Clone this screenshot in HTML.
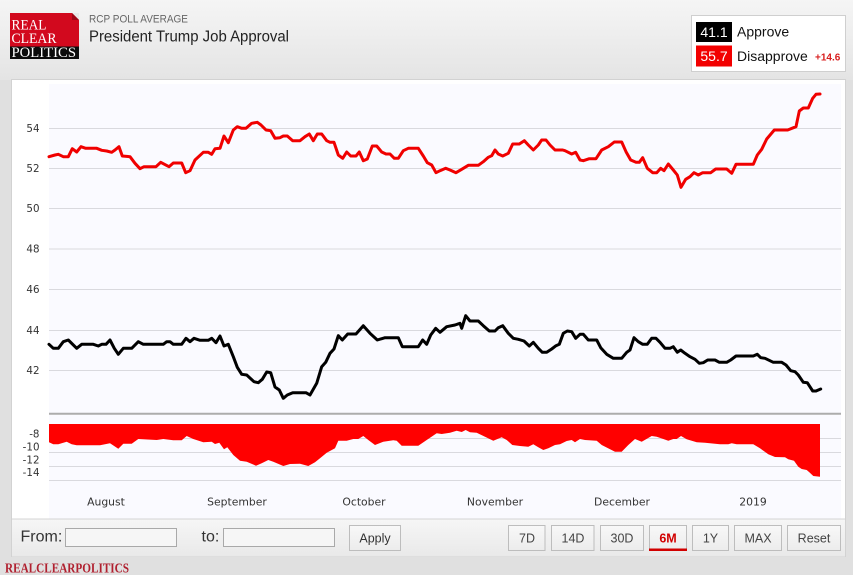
<!DOCTYPE html>
<html><head><meta charset="utf-8"><style>
html,body{margin:0;padding:0;width:853px;height:575px;overflow:hidden;background:#e0e0e0;}
svg{display:block;}
</style></head><body>
<svg width="853" height="575" viewBox="0 0 853 575" xmlns="http://www.w3.org/2000/svg">
<defs>
<linearGradient id="hdr" x1="0" y1="0" x2="0" y2="1">
<stop offset="0" stop-color="#f5f5f5"/><stop offset="1" stop-color="#e4e4e4"/>
</linearGradient>
<linearGradient id="bar" x1="0" y1="0" x2="0" y2="1">
<stop offset="0" stop-color="#f6f6f6"/><stop offset="1" stop-color="#e9e9e9"/>
</linearGradient>
<linearGradient id="btn" x1="0" y1="0" x2="0" y2="1">
<stop offset="0" stop-color="#f8f8f8"/><stop offset="1" stop-color="#ececec"/>
</linearGradient>
</defs>
<rect x="0" y="0" width="853" height="575" fill="#e0e0e0"/>
<rect x="0" y="0" width="853" height="80" fill="url(#hdr)"/>

<!-- logo -->
<rect x="10" y="13" width="69" height="34" fill="#d2091e"/>
<polygon points="72,13 79,13 79,20" fill="#e8e8e8"/>
<polygon points="72,13 79,20 72,20" fill="#9e0616"/>
<rect x="10" y="46.5" width="69" height="12.5" fill="#0b0b0b"/>
<g font-family="'Liberation Serif',serif" fill="#fff" font-size="14.5">
<text x="11.5" y="29.5" textLength="35" lengthAdjust="spacingAndGlyphs">REAL</text>
<text x="11.5" y="43" textLength="45" lengthAdjust="spacingAndGlyphs">CLEAR</text>
<text x="11.5" y="57" textLength="64.5" lengthAdjust="spacingAndGlyphs">POLITICS</text>
</g>

<text x="89" y="22.7" font-family="'Liberation Sans',sans-serif" font-size="10.6" fill="#666" textLength="99" lengthAdjust="spacingAndGlyphs">RCP POLL AVERAGE</text>
<text x="89" y="41.7" font-family="'Liberation Sans',sans-serif" font-size="15.5" fill="#222" textLength="200" lengthAdjust="spacingAndGlyphs">President Trump Job Approval</text>

<!-- legend -->
<rect x="691.5" y="15.5" width="154" height="56" fill="#fff" stroke="#cfcfcf"/>
<rect x="696" y="22" width="36" height="20" fill="#000"/>
<text x="714" y="37" text-anchor="middle" font-family="'Liberation Sans',sans-serif" font-size="14" fill="#fff">41.1</text>
<text x="737" y="36.5" font-family="'Liberation Sans',sans-serif" font-size="14" fill="#111">Approve</text>
<rect x="696" y="45.5" width="36" height="21" fill="#f20000"/>
<text x="714" y="61" text-anchor="middle" font-family="'Liberation Sans',sans-serif" font-size="14" fill="#fff">55.7</text>
<text x="737" y="61" font-family="'Liberation Sans',sans-serif" font-size="14" fill="#111">Disapprove</text>
<text x="815" y="60.5" font-family="'Liberation Sans',sans-serif" font-size="10" font-weight="bold" fill="#d81e1e">+14.6</text>

<!-- panel -->
<rect x="11.5" y="79.5" width="834" height="477" fill="#fff" stroke="#d2d2d2"/>
<rect x="49" y="84" width="792" height="435" fill="#fafaff"/>

<!-- grid -->
<g stroke="#d9d9de" stroke-width="1">
<line x1="49" x2="841" y1="128.5" y2="128.5"/>
<line x1="49" x2="841" y1="168.5" y2="168.5"/>
<line x1="49" x2="841" y1="208.5" y2="208.5"/>
<line x1="49" x2="841" y1="249" y2="249"/>
<line x1="49" x2="841" y1="289.5" y2="289.5"/>
<line x1="49" x2="841" y1="330.5" y2="330.5"/>
<line x1="49" x2="841" y1="370.5" y2="370.5"/>
<line x1="49" x2="841" y1="438.5" y2="438.5"/>
<line x1="49" x2="841" y1="452.5" y2="452.5"/>
<line x1="49" x2="841" y1="466.5" y2="466.5"/>
<line x1="49" x2="841" y1="480.5" y2="480.5"/>
</g>
<g font-family="'DejaVu Sans',sans-serif" font-size="10.3" fill="#333" text-anchor="end">
<text x="39.5" y="132">54</text>
<text x="39.5" y="172">52</text>
<text x="39.5" y="212.2">50</text>
<text x="39.5" y="252.5">48</text>
<text x="39.5" y="293">46</text>
<text x="39.5" y="334">44</text>
<text x="39.5" y="374">42</text>
<text x="39.5" y="437.7">-8</text>
<text x="39.5" y="450.7">-10</text>
<text x="39.5" y="463.3">-12</text>
<text x="39.5" y="476">-14</text>
</g>

<!-- separator -->
<line x1="49" x2="841" y1="413.7" y2="413.7" stroke="#acacac" stroke-width="2"/>

<!-- spread area -->
<polygon fill="#ff0000" points="49,424 49,442.3 53.3,444.3 58.3,444.3 66.7,441.7 71.7,444.3 76.7,445.3 100,445.3 110,443.3 118.3,448.7 123.3,443.7 131.7,443.7 138.3,439 156.7,440 163.3,439 173.3,440.3 181.7,440.3 186.7,436 193.3,439 203.3,442.3 211.7,441.7 215,444 219.3,442.7 224,449.3 227.3,447.3 233.3,455 240,460.7 246.7,461.7 256,465.7 261.7,463.3 268.3,460 273.3,461.7 283.3,466 290,464 300,463.7 308.3,466 315,462.3 320,458.3 326.7,452.7 335,448.3 338.3,440.7 346.7,440.7 353.3,439 358.3,439 363.3,436 368.3,440 375,445 383.3,441.7 393.3,440.3 396.7,440.7 401.7,445.7 418.3,445.7 426.7,440 436.7,433.3 441.7,434 450,432.7 456.7,430.7 461.7,432 465.7,430 470,432.3 476.7,432.7 485,436.7 493.3,440.7 501.7,437.3 506.7,440 512.3,445 520,446 528.3,446.7 533.3,444.3 538.3,447.3 543.3,450 548.3,448.3 555,445 560,444.3 566.7,441 571.7,440 575,442.3 580,439 585,440 596.7,440.7 601.7,445 615,451.7 621.7,451.7 628.3,445 635,439 641.7,441.7 651.7,436 656.7,436.7 663.3,439 668.3,440.7 673.3,439 676.7,439 681,436 686.7,439.3 696.7,442.3 705,442.7 710,443.3 720,444.3 728.3,444.3 731.7,443.3 736.7,444.3 753.3,444.3 760,448.3 768.3,454.3 775,457 785,457.3 788.3,459.3 794,460.7 798.3,466.7 801.7,469 806.7,470 809.3,472.3 813.3,476 820,476.7 820,424"/>

<!-- disapprove -->
<polyline fill="none" stroke="#f00000" stroke-width="3" stroke-linejoin="round" stroke-linecap="round" points="49,156.7 55,155 58.3,154.3 63.3,156.7 68.3,156.7 72.3,148.7 76.7,152 81,146.7 85.7,148.3 96.7,148.3 101.7,150.3 106.7,151 111.7,152.3 115,150 119,146.7 122.3,156 130,156.7 135,163.3 140,168.7 144,166.7 156,166.7 160.7,162.3 169,166.7 173.3,163 181.7,163 185.7,172.7 190,170.7 195,160 203.3,152.3 208.3,152.3 211.7,154.3 215,148.7 220,148.3 224,136 228.3,142.7 233.3,130 237.3,126.7 241.7,128.3 246,128.3 251.7,123.3 257.3,122.3 261,125 266,130 270.7,130.7 275,138.3 280,137.7 283.3,136 287.3,136 292.7,140.7 300,140.7 305,136.7 309.3,134 313.3,140.7 317.3,134 321.7,134 326.7,140.7 330,142.3 334,142.3 338.3,155 342.7,158.3 346.7,152 350.7,156 356,156 359.3,152 363.3,160.7 367.3,159 372.3,146 376.7,146 381.7,152 386,154 390,154 394.3,158.3 398.3,158.3 403.3,150.7 408.3,148.3 418.3,148.3 423.3,156 427.3,162.7 431.7,165 436,172.7 440,170.7 445.7,168.3 450,170 456,172.7 461.7,169.3 468.3,165.3 478.3,165.3 483.3,161.7 488.3,157.3 491.7,155.7 495,150 498.3,154 502.7,156 508.3,153.3 512.7,144 519.3,144 524.3,140.7 528.3,145 533.3,150 538.3,145 541.7,140 546,140 550,145 555,150 562.7,150 565,150.7 571.7,154 575.7,152.3 580,160 583.3,160.7 589.3,158.7 596,158.7 601.7,150 608.3,146.7 614.3,142 621.7,142 626,151.7 630.7,160 636,162.3 639.3,162.3 642.7,157.7 647.3,168.3 652.7,172.7 656.7,172.7 660.7,168.3 664,170.7 668.3,164 673.3,170 677.3,175 681,187.3 685.7,179.3 690,176.7 694,172.7 698.3,175 702.7,172.7 710.7,172.7 715.7,169 726.7,169 731.7,173.3 736,164.3 753.3,164.3 757.3,155 761.7,149.3 766.7,139 774.3,130 787.7,130 796,126.7 799.3,111 803.3,108 808.3,108 812.7,98.3 816,94.3 820,94"/>

<!-- approve -->
<polyline fill="none" stroke="#000" stroke-width="3" stroke-linejoin="round" stroke-linecap="round" points="49,344.3 53.3,348.3 58.3,348.3 63.3,341.7 68.3,340 76.7,348.3 81.7,344.3 93.3,344.3 98.3,346 101.7,344.3 106,344.3 110,340 114.3,348.3 118.3,354.3 123.3,348.3 131.7,348.3 138.3,341.7 143.3,344.3 163.3,344.3 166.7,341.7 170,341.7 173.3,344.3 181.7,344.3 186,338.3 190,341.7 194,338.3 200,340.3 208.3,340.3 211.7,338.3 216,342.7 220,336 224,346 228.3,344.3 233.3,356.7 237.3,367.3 241.7,374.3 246.7,375 254,381.7 258.3,382.7 262.3,379.3 266.7,372 270.7,372.7 275,387 279.3,390 283.3,398.3 287.3,395 292.7,392.7 306,392.7 310,395 316.7,383.3 321.7,366.7 325.7,362.3 330,353.3 334,349 338.3,335.7 342.3,340 347.7,334 356,334 363.3,325.7 370,333.3 377.3,340 385,337.7 398.3,337.7 402.3,346.7 418.3,346.7 422.7,340 426.7,344.3 430.7,335 435.7,328.3 440,332.3 446.7,326.7 455,325 460,323.3 461.7,328.3 465.7,315.7 470,321 478.3,321 483.3,325.7 489.3,331 495,331 498.3,327.7 502.7,325.7 508.3,333.3 513.3,338.3 518.3,339.3 524,341 529.3,346 533.3,342.3 538.3,348.3 542.3,352.3 546.7,352.3 551.7,349 556,345.7 559.3,344.3 563.3,333.3 567.3,331 571.7,331.7 575.7,338.3 580,334.3 583.3,334.3 588.3,340 596.7,340 600.7,347.7 606.7,354.3 613.3,358.3 621.7,358.3 626.7,352.3 630,350 634,337.7 638.3,341.7 642.7,344.3 647.3,344.3 651.7,338.3 656,338.3 660,342.3 665,348.3 670,348.3 673.3,346.7 677.3,352.3 680.7,350 685,353.3 690,356.7 695,359.3 699.3,363.3 703.3,362.7 707.7,360 715,360 719.3,362.3 726.7,362.3 730.7,360 736,356 753.3,356 757.3,354.3 760.7,357.7 765,358.3 773.3,362.3 781.7,362.3 786,365 790.7,370.7 795,371.7 798.3,375 803.3,382.3 807.3,382.7 812.7,391 816,391 820.7,389"/>

<!-- month labels -->
<g font-family="'DejaVu Sans',sans-serif" font-size="10.8" fill="#333" text-anchor="middle">
<text x="106" y="505.5">August</text>
<text x="237" y="505.5">September</text>
<text x="364" y="505.5">October</text>
<text x="495" y="505.5">November</text>
<text x="622" y="505.5">December</text>
<text x="753" y="505.5">2019</text>
</g>

<!-- control bar -->
<rect x="12" y="519" width="833" height="37.5" fill="url(#bar)"/>
<line x1="12" x2="845" y1="519" y2="519" stroke="#d4d4d4"/>
<g font-family="'Liberation Sans',sans-serif">
<text x="20.5" y="541.7" font-size="16" fill="#333">From:</text>
<rect x="65.5" y="528.5" width="111" height="18" fill="#f6f6f6" stroke="#a9a9a9"/>
<text x="201.5" y="541.7" font-size="16" fill="#333">to:</text>
<rect x="223.5" y="528.5" width="111" height="18" fill="#f6f6f6" stroke="#a9a9a9"/>
<rect x="349.5" y="525.5" width="51" height="25" fill="url(#btn)" stroke="#bdbdbd"/>
<text x="375" y="542.5" font-size="12.5" fill="#333" text-anchor="middle">Apply</text>

<rect x="508.5" y="525.5" width="36.5" height="25" fill="url(#btn)" stroke="#bdbdbd"/>
<text x="527" y="542.5" font-size="12.5" fill="#444" text-anchor="middle">7D</text>
<rect x="551.5" y="525.5" width="42.5" height="25" fill="url(#btn)" stroke="#bdbdbd"/>
<text x="573" y="542.5" font-size="12.5" fill="#444" text-anchor="middle">14D</text>
<rect x="600.5" y="525.5" width="43" height="25" fill="url(#btn)" stroke="#bdbdbd"/>
<text x="622" y="542.5" font-size="12.5" fill="#444" text-anchor="middle">30D</text>
<rect x="649.5" y="525.5" width="37" height="25" fill="url(#btn)" stroke="#bdbdbd"/>
<text x="668" y="542.5" font-size="12.5" fill="#d10000" font-weight="bold" text-anchor="middle">6M</text>
<rect x="649" y="548.5" width="38" height="2.5" fill="#d10000"/>
<rect x="692.5" y="525.5" width="36" height="25" fill="url(#btn)" stroke="#bdbdbd"/>
<text x="710.5" y="542.5" font-size="12.5" fill="#444" text-anchor="middle">1Y</text>
<rect x="734.5" y="525.5" width="47" height="25" fill="url(#btn)" stroke="#bdbdbd"/>
<text x="758" y="542.5" font-size="12.5" fill="#444" text-anchor="middle">MAX</text>
<rect x="787.5" y="525.5" width="53" height="25" fill="url(#btn)" stroke="#bdbdbd"/>
<text x="814" y="542.5" font-size="12.5" fill="#444" text-anchor="middle">Reset</text>
</g>

<text x="5" y="572.3" font-family="'Liberation Serif',serif" font-size="13.5" font-weight="bold" fill="#b0202f" textLength="124" lengthAdjust="spacingAndGlyphs">REALCLEARPOLITICS</text>
</svg>
</body></html>
